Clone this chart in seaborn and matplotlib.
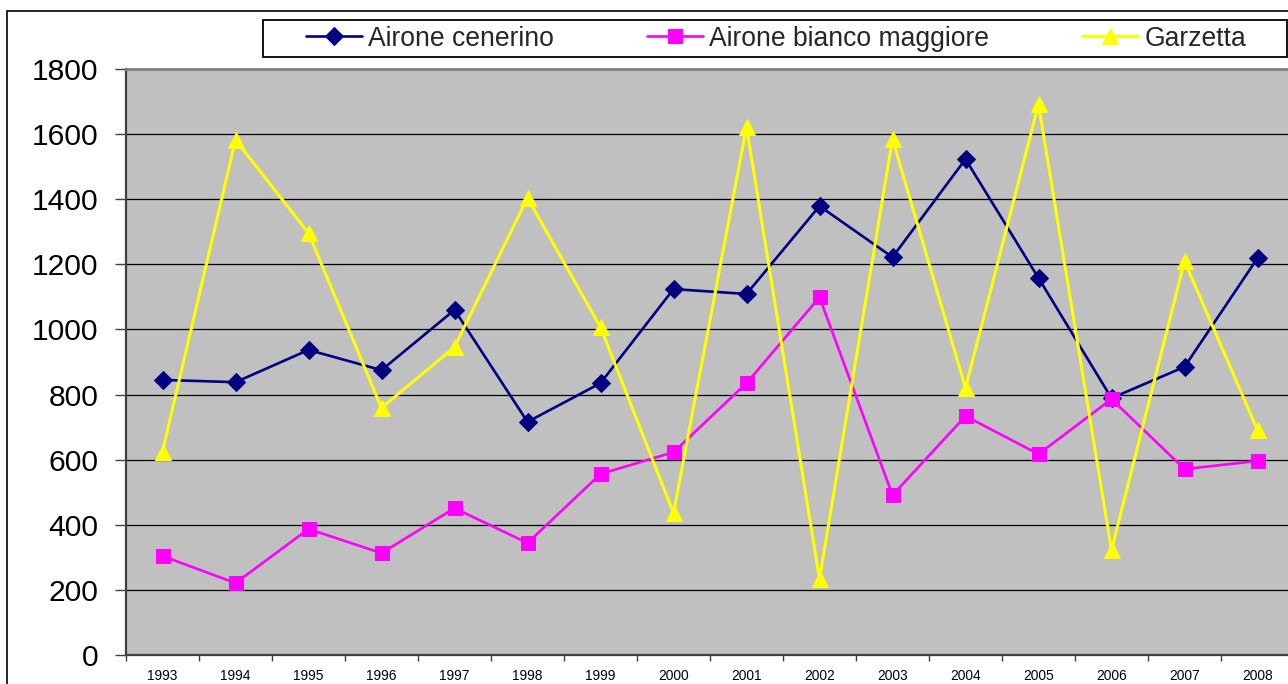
import matplotlib
matplotlib.use("Agg")
import matplotlib.pyplot as plt
from matplotlib.patches import Rectangle
from matplotlib.ticker import FixedLocator, NullFormatter
import seaborn as sns
import pandas as pd
import numpy as np

years = list(range(1993, 2009))
airone_cenerino = [845, 838, 937, 875, 1060, 716, 835, 1124, 1109, 1379, 1222, 1523, 1158, 789, 885, 1219]
airone_bianco = [304, 221, 387, 313, 451, 344, 556, 623, 835, 1099, 491, 734, 617, 786, 571, 596]
garzetta = [625, 1582, 1296, 759, 946, 1404, 1007, 436, 1622, 233, 1585, 820, 1692, 322, 1210, 691]
series_names = ["Airone cenerino", "Airone bianco maggiore", "Garzetta"]
y_ticks = [0, 200, 400, 600, 800, 1000, 1200, 1400, 1600, 1800]

sns.set_style("white")
plt.rcParams["font.family"] = ["Liberation Sans", "DejaVu Sans"]

W, H = 1288, 684
fig = plt.figure(figsize=(W / 100, H / 100), dpi=100)
fig.patch.set_facecolor("white")

# outer chart border
fig.add_artist(Rectangle((7 / W, -0.2), 1.5, 1 - 11 / H + 0.2, transform=fig.transFigure,
                         fill=False, edgecolor="black", lw=1.2))

ax = fig.add_axes([126 / W, 1 - 655 / H, (1294 - 126) / W, (655 - 69) / H])
ax.set_facecolor("#C0C0C0")

df = pd.DataFrame({"idx": np.arange(len(years)),
                   series_names[0]: airone_cenerino,
                   series_names[1]: airone_bianco,
                   series_names[2]: garzetta})

styles = [
    dict(color="#000080", marker="D", markersize=9, linewidth=1.9),
    dict(color="#FF00FF", marker="s", markersize=10.5, linewidth=1.9),
    dict(color="#FFFF00", marker="^", markersize=11, linewidth=2.2),
]
for name, st in zip(series_names, styles):
    sns.lineplot(data=df, x="idx", y=name, ax=ax, color=st["color"], marker=st["marker"],
                 markersize=st["markersize"], linewidth=st["linewidth"],
                 markeredgecolor=st["color"], markerfacecolor=st["color"], label=name,
                 legend=False)

ax.set_xlim(-0.5, len(years) - 0.5)
ax.set_ylim(0, 1800)
ax.set_yticks(y_ticks)
ax.set_yticklabels([str(v) for v in y_ticks], fontsize=21.6)
ax.set_xticks(np.arange(len(years)))
ax.set_xticklabels([str(y) for y in years], fontsize=9.9)
ax.xaxis.set_minor_locator(FixedLocator(np.arange(len(years) + 1) - 0.5))
ax.xaxis.set_minor_formatter(NullFormatter())
ax.tick_params(axis="x", which="major", length=0, pad=10, colors="black")
ax.tick_params(axis="x", which="minor", length=4, width=1, color="#404040", direction="out", bottom=True)
ax.tick_params(axis="y", which="major", length=8, width=1, color="#404040", pad=12,
               direction="out", left=True, labelcolor="black")
ax.set_xlabel("")
ax.set_ylabel("")
ax.grid(axis="y", color="black", linewidth=0.9)
ax.grid(axis="x", visible=False)
ax.set_axisbelow(True)
for s in ["left", "bottom"]:
    ax.spines[s].set_visible(True)
    ax.spines[s].set_color("#404040")
    ax.spines[s].set_linewidth(1.6)
ax.spines["top"].set_visible(True)
ax.spines["top"].set_color("#808080")
ax.spines["top"].set_linewidth(2)
ax.spines["right"].set_visible(False)

# legend box
fig.add_artist(Rectangle((263 / W, 1 - 57 / H), (1287 - 263) / W, 37 / H, transform=fig.transFigure,
                         facecolor="white", edgecolor="black", lw=1.3, zorder=5))
handles = ax.get_lines()[:3]
leg = fig.legend(handles, series_names, loc="center", bbox_to_anchor=(776 / W, 1 - 38.5 / H),
                 bbox_transform=fig.transFigure, ncol=3, frameon=False, fontsize=19.1,
                 borderpad=0, columnspacing=3.5, handlelength=2.1, handletextpad=0.25)
leg.set_zorder(6)

fig.savefig("out.png", dpi=100, facecolor="white")
